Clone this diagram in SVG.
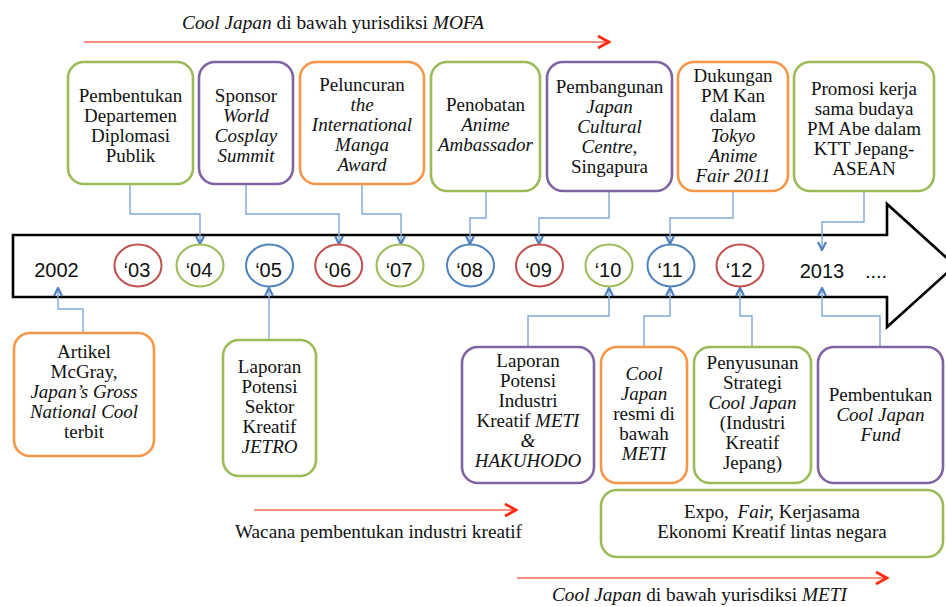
<svg xmlns="http://www.w3.org/2000/svg" width="946" height="607" viewBox="0 0 946 607">
<style>
.bx{fill:#fff;stroke-width:2.6}
.g{stroke:#9BBB59}.p{stroke:#8064A2}.o{stroke:#F79646}.r{stroke:#C0504D}.b{stroke:#4F81BD}
.t{font-family:"Liberation Serif","Times New Roman",serif;font-size:19px;fill:#111;text-anchor:middle}
.i{font-style:italic}
.n{font-family:"Liberation Sans",Arial,sans-serif;font-size:20px;fill:#111;text-anchor:middle}
.c{fill:none;stroke:#7EA9DA;stroke-width:1.4}
.yr{fill:#fff;stroke-width:2}
.red{fill:none;stroke:#F4695A;stroke-width:1.6}
</style>
<defs>
<marker id="ah" viewBox="0 0 10 10" refX="9" refY="5" markerWidth="10" markerHeight="10" markerUnits="userSpaceOnUse" orient="auto">
<path d="M1,1 L9,5 L1,9" fill="none" stroke="#4F81BD" stroke-width="2.2"/>
</marker>
<marker id="rh" viewBox="0 0 14 14" refX="12" refY="7" markerWidth="14" markerHeight="14" markerUnits="userSpaceOnUse" orient="auto">
<path d="M1,1 L12,7 L1,13" fill="none" stroke="#FF2A10" stroke-width="2.8"/>
</marker>
</defs>
<rect width="946" height="607" fill="#fff"/>

<g id="timeline">
<path d="M13,235 L887,235 L887,204 L955,265.5 L887,327 L887,297 L13,297 Z" fill="#fff" stroke="#000" stroke-width="2.6"/>
</g>

<g id="connectors">
<path class="c" d="M130,184 V214 H200 V244" marker-end="url(#ah)"/>
<path class="c" d="M246,184 V214 H339 V244" marker-end="url(#ah)"/>
<path class="c" d="M362,184 V214 H401 V244" marker-end="url(#ah)"/>
<path class="c" d="M486,192 V218 H470 V244" marker-end="url(#ah)"/>
<path class="c" d="M609,192 V218 H539 V244" marker-end="url(#ah)"/>
<path class="c" d="M733,192 V218 H670 V244" marker-end="url(#ah)"/>
<path class="c" d="M864,192 V222 H822 V250" marker-end="url(#ah)"/>
<path class="c" d="M83,333 V309 H58 V288" marker-end="url(#ah)"/>
<path class="c" d="M269,340 V288" marker-end="url(#ah)"/>
<path class="c" d="M528,347 V316 H609 V288" marker-end="url(#ah)"/>
<path class="c" d="M644,347 V316 H670 V288" marker-end="url(#ah)"/>
<path class="c" d="M752,347 V316 H740 V288" marker-end="url(#ah)"/>
<path class="c" d="M880,347 V316 H822 V288" marker-end="url(#ah)"/>
<path class="red" d="M84,42 H609" marker-end="url(#rh)"/>
<path class="red" d="M254,510 H516" marker-end="url(#rh)"/>
<path class="red" d="M517,578 H887" marker-end="url(#rh)"/>
</g>

<g id="years">
<text class="n" x="56.5" y="277">2002</text>
<g id="y03"><ellipse class="yr r" cx="138" cy="265.5" rx="23.5" ry="21"/><text class="n" x="137" y="277">‘03</text></g>
<g id="y04"><ellipse class="yr g" cx="200" cy="265.5" rx="23.5" ry="21"/><text class="n" x="199" y="277">‘04</text></g>
<g id="y05"><ellipse class="yr b" cx="269.5" cy="265.5" rx="23.5" ry="21"/><text class="n" x="268.5" y="277">‘05</text></g>
<g id="y06"><ellipse class="yr r" cx="338.7" cy="265.5" rx="23.5" ry="21"/><text class="n" x="337.7" y="277">‘06</text></g>
<g id="y07"><ellipse class="yr g" cx="400" cy="265.5" rx="23.5" ry="21"/><text class="n" x="399" y="277">‘07</text></g>
<g id="y08"><ellipse class="yr b" cx="470.5" cy="265.5" rx="23.5" ry="21"/><text class="n" x="469.5" y="277">‘08</text></g>
<g id="y09"><ellipse class="yr r" cx="539.5" cy="265.5" rx="23.5" ry="21"/><text class="n" x="538.5" y="277">‘09</text></g>
<g id="y10"><ellipse class="yr g" cx="609" cy="265.5" rx="23.5" ry="21"/><text class="n" x="608" y="277">‘10</text></g>
<g id="y11"><ellipse class="yr b" cx="671" cy="265.5" rx="23.5" ry="21"/><text class="n" x="670" y="277">‘11</text></g>
<g id="y12"><ellipse class="yr r" cx="740" cy="265.5" rx="23.5" ry="21"/><text class="n" x="739" y="277">‘12</text></g>
<text class="n" x="822" y="278">2013</text>
<text class="n" x="876" y="278">....</text>
</g>

<g id="n-dept">
<rect class="bx g" x="68" y="62" width="125" height="122" rx="16"/>
<text class="t" x="130.5" y="102">Pembentukan</text>
<text class="t" x="130.5" y="122">Departemen</text>
<text class="t" x="130.5" y="142">Diplomasi</text>
<text class="t" x="130.5" y="162">Publik</text>
</g>
<g id="n-cosplay">
<rect class="bx p" x="199" y="62" width="94" height="122" rx="16"/>
<text class="t" x="246" y="102">Sponsor</text>
<text class="t i" x="246" y="122">World</text>
<text class="t i" x="246" y="142">Cosplay</text>
<text class="t i" x="246" y="162">Summit</text>
</g>
<g id="n-manga">
<rect class="bx o" x="300" y="62" width="124" height="122" rx="16"/>
<text class="t" x="362" y="91">Peluncuran</text>
<text class="t i" x="362" y="111">the</text>
<text class="t i" x="362" y="131">International</text>
<text class="t i" x="362" y="151">Manga</text>
<text class="t i" x="362" y="171">Award</text>
</g>
<g id="n-anime">
<rect class="bx g" x="431" y="62" width="109" height="129" rx="16"/>
<text class="t" x="485.5" y="111">Penobatan</text>
<text class="t i" x="485.5" y="131">Anime</text>
<text class="t i" x="485.5" y="151">Ambassador</text>
</g>
<g id="n-jcc">
<rect class="bx p" x="547" y="62" width="125" height="129" rx="16"/>
<text class="t" x="609.5" y="93">Pembangunan</text>
<text class="t i" x="609.5" y="113">Japan</text>
<text class="t i" x="609.5" y="133">Cultural</text>
<text class="t i" x="609.5" y="153">Centre,</text>
<text class="t" x="609.5" y="173">Singapura</text>
</g>
<g id="n-kan">
<rect class="bx o" x="678" y="62" width="110" height="129" rx="16"/>
<text class="t" x="733" y="82">Dukungan</text>
<text class="t" x="733" y="102">PM Kan</text>
<text class="t" x="733" y="122">dalam</text>
<text class="t i" x="733" y="142">Tokyo</text>
<text class="t i" x="733" y="162">Anime</text>
<text class="t i" x="733" y="182">Fair 2011</text>
</g>
<g id="n-abe">
<rect class="bx g" x="794" y="62" width="140" height="129" rx="16"/>
<text class="t" x="864" y="95">Promosi kerja</text>
<text class="t" x="864" y="115">sama budaya</text>
<text class="t" x="864" y="135">PM Abe dalam</text>
<text class="t" x="864" y="155">KTT Jepang-</text>
<text class="t" x="864" y="175">ASEAN</text>
</g>

<g id="n-mcgray">
<rect class="bx o" x="14" y="333" width="140" height="123" rx="16"/>
<text class="t" x="84" y="358">Artikel</text>
<text class="t" x="84" y="378">McGray,</text>
<text class="t i" x="84" y="398">Japan’s Gross</text>
<text class="t i" x="84" y="418">National Cool</text>
<text class="t" x="84" y="438">terbit</text>
</g>
<g id="n-jetro">
<rect class="bx g" x="223" y="340" width="93" height="136" rx="16"/>
<text class="t" x="269.5" y="373">Laporan</text>
<text class="t" x="269.5" y="393">Potensi</text>
<text class="t" x="269.5" y="413">Sektor</text>
<text class="t" x="269.5" y="433">Kreatif</text>
<text class="t i" x="269.5" y="453">JETRO</text>
</g>
<g id="n-hakuhodo">
<rect class="bx p" x="462" y="347" width="132" height="136" rx="16"/>
<text class="t" x="528" y="367">Laporan</text>
<text class="t" x="528" y="387">Potensi</text>
<text class="t" x="528" y="407">Industri</text>
<text class="t" x="528" y="427">Kreatif <tspan class="i">METI</tspan></text>
<text class="t i" x="528" y="447">&amp;</text>
<text class="t i" x="528" y="467">HAKUHODO</text>
</g>
<g id="n-meti">
<rect class="bx o" x="601" y="347" width="86" height="136" rx="16"/>
<text class="t i" x="644" y="380">Cool</text>
<text class="t i" x="644" y="400">Japan</text>
<text class="t" x="644" y="420">resmi di</text>
<text class="t" x="644" y="440">bawah</text>
<text class="t i" x="644" y="460">METI</text>
</g>
<g id="n-strategi">
<rect class="bx g" x="694" y="347" width="117" height="136" rx="16"/>
<text class="t" x="752.5" y="369">Penyusunan</text>
<text class="t" x="752.5" y="389">Strategi</text>
<text class="t i" x="752.5" y="409">Cool Japan</text>
<text class="t" x="752.5" y="429">(Industri</text>
<text class="t" x="752.5" y="449">Kreatif</text>
<text class="t" x="752.5" y="469">Jepang)</text>
</g>
<g id="n-fund">
<rect class="bx p" x="818" y="347" width="125" height="136" rx="16"/>
<text class="t" x="880.5" y="401">Pembentukan</text>
<text class="t i" x="880.5" y="421">Cool Japan</text>
<text class="t i" x="880.5" y="441">Fund</text>
</g>
<g id="n-expo">
<rect class="bx g" x="601" y="490" width="342" height="67" rx="16"/>
<text class="t" x="772" y="518">Expo, <tspan class="i" dx="4">Fair,</tspan> Kerjasama</text>
<text class="t" x="772" y="538">Ekonomi Kreatif lintas negara</text>
</g>

<g id="labels">
<text class="t" x="182" y="29" style="text-anchor:start" textLength="302" lengthAdjust="spacingAndGlyphs"><tspan class="i">Cool Japan</tspan> di bawah yurisdiksi <tspan class="i">MOFA</tspan></text>
<text class="t" x="235" y="538" style="text-anchor:start" textLength="287" lengthAdjust="spacingAndGlyphs">Wacana pembentukan industri kreatif</text>
<text class="t" x="552" y="601" style="text-anchor:start" textLength="295" lengthAdjust="spacingAndGlyphs"><tspan class="i">Cool Japan</tspan> di bawah yurisdiksi <tspan class="i">METI</tspan></text>
</g>
</svg>
